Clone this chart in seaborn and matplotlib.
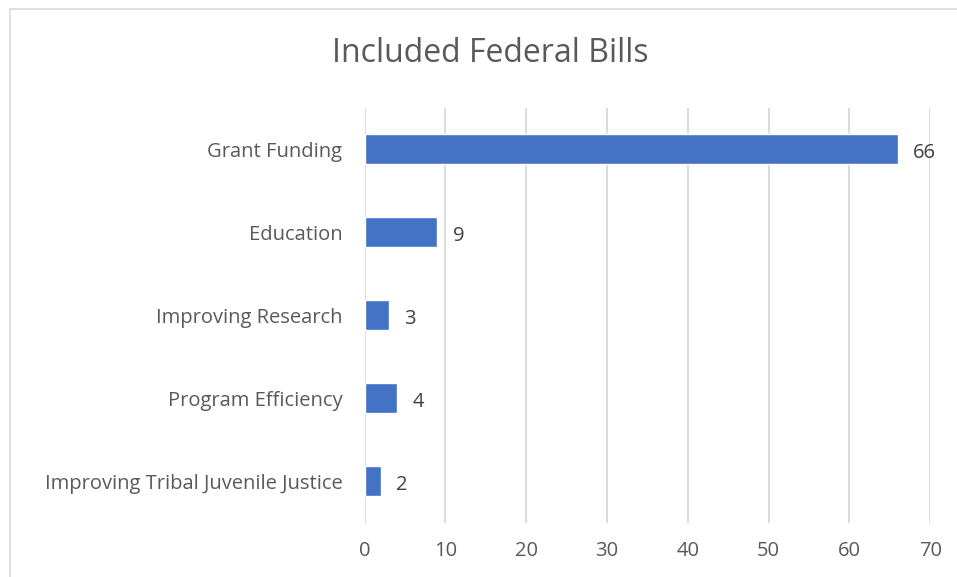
import matplotlib
matplotlib.use("Agg")
import matplotlib.pyplot as plt
import seaborn as sns
import pandas as pd
from matplotlib.patches import Rectangle

# ==============================
# DATA
# ==============================
categories = [
    "Grant Funding",
    "Education",
    "Improving Research",
    "Program Efficiency",
    "Improving Tribal Juvenile Justice",
]
counts = [66, 9, 3, 4, 2]
x_ticks = [0, 10, 20, 30, 40, 50, 60, 70]

df = pd.DataFrame({"Category": categories, "Count": counts})

# ==============================
# PLOT
# ==============================
sns.set_theme(style="white")
plt.rcParams["font.family"] = ["Open Sans", "DejaVu Sans"]

fig = plt.figure(figsize=(9.57, 5.77), dpi=100)
ax = fig.add_axes([0.381, 0.094, 0.591, 0.719])

sns.barplot(data=df, x="Count", y="Category", color="#4472C4",
            width=0.36, saturation=1, ax=ax, orient="h")

ax.set_xlim(0, 70)
ax.set_xticks(x_ticks)
ax.xaxis.grid(True, color="#D9D9D9", linewidth=1.3)
ax.set_axisbelow(True)
for s in ax.spines.values():
    s.set_visible(False)

ax.set_xlabel("")
ax.set_ylabel("")
ax.tick_params(axis="x", labelsize=14.5, labelcolor="#595959", length=0, pad=13)
ax.tick_params(axis="y", labelsize=14.5, labelcolor="#595959", length=0, pad=16)

# value labels next to bars
for i, v in enumerate(counts):
    ax.text(v + 1.9, i + 0.04, str(v), va="center", ha="left",
            fontsize=14.5, color="#404040")

fig.text(0.512, 0.908, "Included Federal Bills", ha="center", va="center",
         fontsize=23, color="#595959")

# chart border
fig.patches.append(Rectangle((10 / 957, -0.05), 1, 1.05 - 9 / 577,
                             transform=fig.transFigure, fill=False,
                             edgecolor="#D9D9D9", linewidth=1.2))

fig.savefig("out.png", dpi=100)
plt.close()
